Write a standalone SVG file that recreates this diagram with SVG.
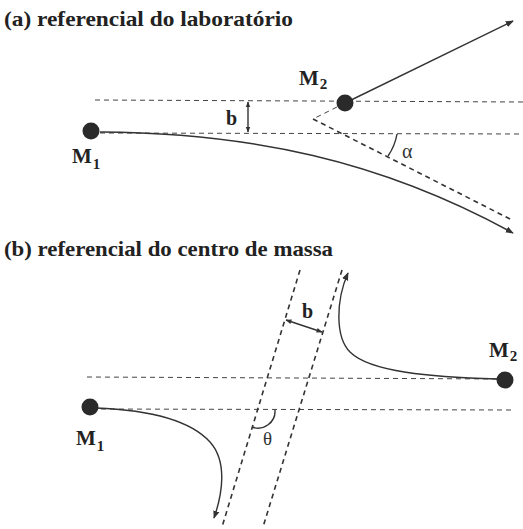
<svg xmlns="http://www.w3.org/2000/svg" width="523" height="529" viewBox="0 0 523 529">
<style>
.t{font-family:"Liberation Serif","Times New Roman",serif;font-weight:bold;fill:#222}
.g{font-family:"Liberation Serif","Times New Roman",serif;fill:#333}
.d{fill:none;stroke:#444;stroke-width:1;stroke-dasharray:5 4}
.ds{fill:none;stroke:#333;stroke-width:1.6;stroke-dasharray:5 4}
.s{fill:none;stroke:#333;stroke-width:1.4}
.dot{fill:#2a2a2a}
</style>
<defs>
<marker id="ah" viewBox="0 0 10 10" refX="9" refY="5" markerWidth="8" markerHeight="8" orient="auto" markerUnits="userSpaceOnUse">
<path d="M0 1 L10 5 L0 9 Z" fill="#333"/>
</marker>
<marker id="sh" viewBox="0 0 10 10" refX="9" refY="5" markerWidth="6" markerHeight="6" orient="auto-start-reverse" markerUnits="userSpaceOnUse">
<path d="M0 1 L10 5 L0 9 Z" fill="#333"/>
</marker>
</defs>
<text class="t" x="4" y="26" font-size="21" textLength="289" lengthAdjust="spacingAndGlyphs">(a) referencial do laboratório</text>
<text class="t" x="4" y="256" font-size="21" textLength="329" lengthAdjust="spacingAndGlyphs">(b) referencial do centro de massa</text>
<g id="connectors">
<line class="d" x1="95" y1="100" x2="523" y2="102"/>
<line class="d" x1="100" y1="133" x2="523" y2="134"/>
<line class="d" x1="345" y1="103" x2="313" y2="119"/>
<line class="ds" x1="313" y1="119" x2="512" y2="220"/>
<path class="s" d="M345 103 L513 21" marker-end="url(#ah)"/>
<path class="s" d="M100 132 C250 133 380 160 513 233" marker-end="url(#ah)"/>
<path class="s" d="M248 102 L248 132" stroke-width="1" marker-start="url(#sh)" marker-end="url(#sh)"/>
<path class="s" d="M397 134 A55 55 0 0 1 388 156" stroke-width="1.2"/>
<line class="d" x1="87" y1="377" x2="505" y2="379"/>
<line class="d" x1="92" y1="409" x2="513" y2="410"/>
<line class="ds" x1="300" y1="270" x2="222" y2="527"/>
<line class="ds" x1="342" y1="270" x2="263" y2="527"/>
<path class="s" d="M286 320 L322 332" stroke-width="1.2" marker-start="url(#sh)" marker-end="url(#sh)"/>
<path class="s" d="M497 379 C430 377 370 372 350 352 C335 337 336 300 348 273" marker-end="url(#ah)"/>
<path class="s" d="M96 408 C150 410 190 420 210 442 C228 462 222 495 214 518" marker-end="url(#ah)"/>
<path class="s" d="M275 410 A17 17 0 0 1 252 427" stroke-width="1.2"/>
</g>
<g id="M1a"><circle class="dot" cx="91" cy="131" r="8.5"/><text class="t" x="72" y="163" font-size="21">M<tspan font-size="15" dy="6" dx="1">1</tspan></text></g>
<g id="M2a"><circle class="dot" cx="345" cy="103" r="8.5"/><text class="t" x="299" y="85" font-size="21">M<tspan font-size="15" dy="4" dx="1">2</tspan></text></g>
<g id="ba"><text class="t" x="226" y="125" font-size="20">b</text></g>
<g id="alpha"><text class="g" x="402" y="158" font-size="20">α</text></g>
<g id="M1b"><circle class="dot" cx="90" cy="407" r="8.5"/><text class="t" x="76" y="445" font-size="21">M<tspan font-size="15" dy="6" dx="1">1</tspan></text></g>
<g id="M2b"><circle class="dot" cx="505" cy="380" r="8.5"/><text class="t" x="489" y="357" font-size="21">M<tspan font-size="15" dy="4" dx="1">2</tspan></text></g>
<g id="bb"><text class="t" x="302" y="318" font-size="20">b</text></g>
<g id="theta"><text class="g" x="263" y="445" font-size="19">θ</text></g>
</svg>
